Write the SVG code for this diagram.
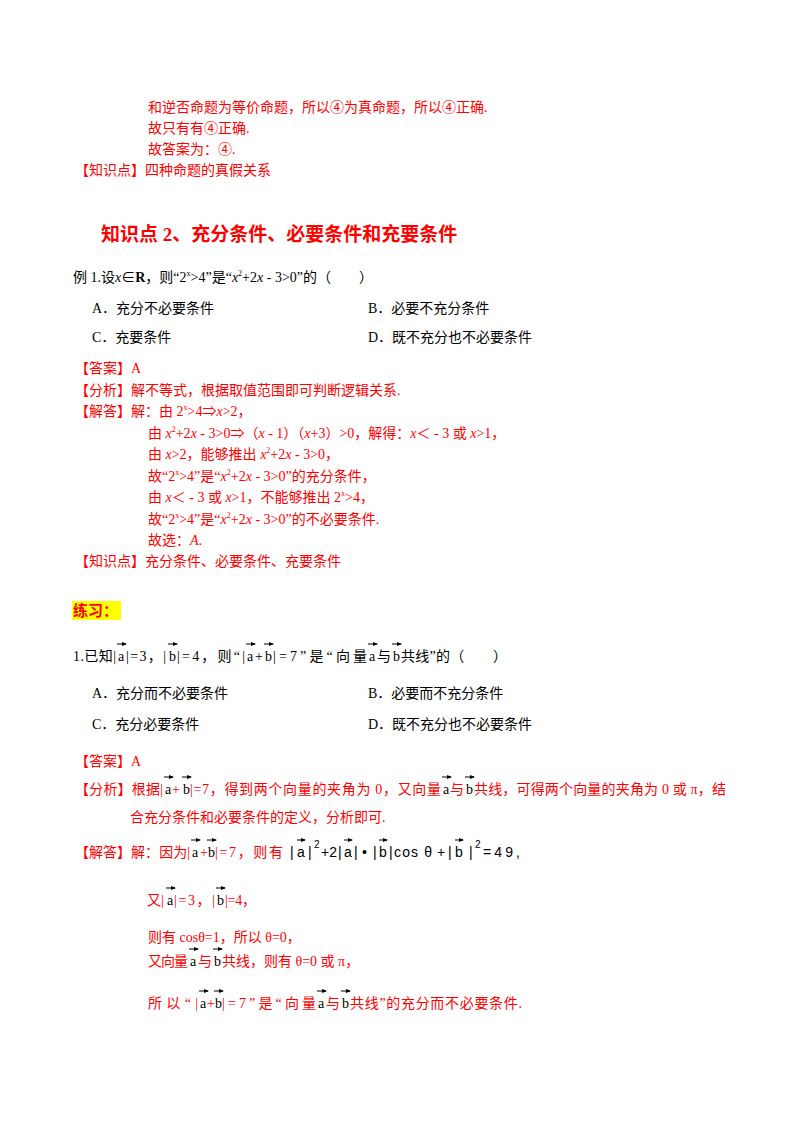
<svg xmlns="http://www.w3.org/2000/svg" width="800" height="1132" viewBox="0 0 800 1132">
<style>
text{font-family:"Liberation Serif","Noto Sans CJK SC",serif;font-size:14px;fill:#000}
.r{fill:#f00}
.h{font-size:19px;font-weight:bold;fill:#f00}
.f{font-family:"Liberation Sans",sans-serif;font-size:14px}
.s{font-family:"Liberation Sans",sans-serif;font-size:10px}
.v{stroke:#000;stroke-width:1;marker-end:url(#ah)}
</style>
<defs>
<marker id="ah" markerWidth="5" markerHeight="4" refX="4" refY="2" orient="auto"><path d="M0,0L5,2L0,4z" fill="#000"/></marker>
</defs>
<rect width="800" height="1132" fill="#fff"/>
<g class="txt">
<text class="r" x="148" y="112">和逆否命题为等价命题，所以④为真命题，所以④正确.</text>
<text class="r" x="148" y="133">故只有有④正确.</text>
<text class="r" x="148" y="154">故答案为：④.</text>
<text class="r" x="75" y="175">【知识点】四种命题的真假关系</text>
<text class="h" x="101" y="241">知识点 2、充分条件、必要条件和充要条件</text>
<text x="73" y="282">例 1.设<tspan font-style="italic">x</tspan>∈<tspan font-weight="bold">R</tspan>，则“2<tspan font-size="8" dy="-6">x</tspan><tspan dy="6">&gt;4”是“</tspan><tspan font-style="italic">x</tspan><tspan font-size="8" dy="-6">2</tspan><tspan dy="6">+2</tspan><tspan font-style="italic">x</tspan> - 3&gt;0”的（　　）</text>
<text x="92" y="313">A．充分不必要条件</text>
<text x="368" y="313">B．必要不充分条件</text>
<text x="92" y="342">C．充要条件</text>
<text x="368" y="342">D．既不充分也不必要条件</text>
<text class="r" x="75" y="373">【答案】A</text>
<text class="r" x="75" y="395">【分析】解不等式，根据取值范围即可判断逻辑关系.</text>
<text class="r" x="75" y="416">【解答】解：由 2<tspan font-size="8" dy="-6">x</tspan><tspan dy="6">&gt;4⇒</tspan><tspan font-style="italic">x</tspan>&gt;2，</text>
<text class="r" x="148" y="438">由 <tspan font-style="italic">x</tspan><tspan font-size="8" dy="-6">2</tspan><tspan dy="6">+2</tspan><tspan font-style="italic">x</tspan> - 3&gt;0⇒（<tspan font-style="italic">x</tspan> - 1）（<tspan font-style="italic">x</tspan>+3）&gt;0，解得：<tspan font-style="italic">x</tspan>＜ - 3 或 <tspan font-style="italic">x</tspan>&gt;1，</text>
<text class="r" x="148" y="459">由 <tspan font-style="italic">x</tspan>&gt;2，能够推出 <tspan font-style="italic">x</tspan><tspan font-size="8" dy="-6">2</tspan><tspan dy="6">+2</tspan><tspan font-style="italic">x</tspan> - 3&gt;0，</text>
<text class="r" x="148" y="481">故“2<tspan font-size="8" dy="-6">x</tspan><tspan dy="6">&gt;4”是“</tspan><tspan font-style="italic">x</tspan><tspan font-size="8" dy="-6">2</tspan><tspan dy="6">+2</tspan><tspan font-style="italic">x</tspan> - 3&gt;0”的充分条件，</text>
<text class="r" x="148" y="502">由 <tspan font-style="italic">x</tspan>＜ - 3 或 <tspan font-style="italic">x</tspan>&gt;1，不能够推出 2<tspan font-size="8" dy="-6">x</tspan><tspan dy="6">&gt;4，</tspan></text>
<text class="r" x="148" y="524">故“2<tspan font-size="8" dy="-6">x</tspan><tspan dy="6">&gt;4”是“</tspan><tspan font-style="italic">x</tspan><tspan font-size="8" dy="-6">2</tspan><tspan dy="6">+2</tspan><tspan font-style="italic">x</tspan> - 3&gt;0”的不必要条件.</text>
<text class="r" x="148" y="545">故选：<tspan font-style="italic">A</tspan>.</text>
<text class="r" x="75" y="566">【知识点】充分条件、必要条件、充要条件</text>
<rect x="72" y="601" width="49" height="19" fill="#ff0"/>
<text x="73" y="616" font-weight="bold" style="fill:#f00;font-size:15px">练习：</text>

<text x="73" y="661" textLength="43">1.已知|</text><text x="118" y="661">a</text><text x="126" y="661" textLength="40">|=3，|</text><text x="169" y="661">b</text><text x="177" y="661" textLength="68">|=4，则“|</text><text x="247" y="661">a</text><text x="255" y="661">+</text><text x="265" y="661">b</text><text x="273" y="661" textLength="94">|=7”是“向量</text><text x="369" y="661">a</text><text x="377" y="661">与</text><text x="393" y="661">b</text><text x="401" y="661" textLength="106">共线”的（　　）</text>
<text x="92" y="698">A．充分而不必要条件</text>
<text x="368" y="698">B．必要而不充分条件</text>
<text x="92" y="729">C．充分必要条件</text>
<text x="368" y="729">D．既不充分也不必要条件</text>
<text class="r" x="75" y="766">【答案】A</text>

<text class="r" x="75" y="794" textLength="88">【分析】根据|</text><text x="165" y="794">a</text><text class="r" x="172" y="794">+</text><text x="183" y="794">b</text><text class="r" x="190" y="794" textLength="251">|=7，得到两个向量的夹角为 0，又向量</text><text x="443" y="794">a</text><text class="r" x="450" y="794">与</text><text x="466" y="794">b</text><text class="r" x="474" y="794" textLength="252">共线，可得两个向量的夹角为 0 或 π，结</text>
<text class="r" x="130" y="822">合充分条件和必要条件的定义，分析即可.</text>

<text class="r" x="75" y="857" textLength="115">【解答】解：因为|</text><text x="192" y="857">a</text><text class="r" x="200" y="857">+</text><text x="208" y="857">b</text><text class="r" x="215" y="857" textLength="68">|=7，则有</text>
<text class="f" x="290" y="857">|</text><text class="f" x="297" y="857">a</text><text class="f" x="308" y="857">|</text><text class="s" x="314" y="848">2</text><text class="f" x="321" y="857">+2</text><text class="f" x="338" y="857">|</text><text class="f" x="344" y="857">a</text><text class="f" x="354" y="857">|</text><text class="f" x="362" y="857">•</text><text class="f" x="373" y="857">|</text><text class="f" x="379" y="857">b</text><text class="f" x="389" y="857">|</text><text class="f" x="394" y="857" textLength="38">cos θ</text><text class="f" x="437" y="857">+</text><text class="f" x="448" y="857">|</text><text class="f" x="455" y="857">b</text><text class="f" x="469" y="857">|</text><text class="s" x="475" y="848">2</text><text class="f" x="483" y="857" textLength="37">=49,</text>

<text class="r" x="147" y="905">又|</text><text x="167" y="905">a</text><text class="r" x="174" y="905" textLength="41">|=3，|</text><text x="217" y="905">b</text><text class="r" x="225" y="905" textLength="31">|=4，</text>
<text class="r" x="148" y="942">则有 cosθ=1，所以 θ=0，</text>
<text class="r" x="148" y="966" textLength="40">又向量</text><text x="190" y="966">a</text><text class="r" x="198" y="966">与</text><text x="214" y="966">b</text><text class="r" x="222" y="966">共线，则有 θ=0 或 π，</text>
<text class="r" x="148" y="1008" textLength="50">所以“|</text><text x="200" y="1008">a</text><text class="r" x="207" y="1008">+</text><text x="215" y="1008">b</text><text class="r" x="222" y="1008" textLength="94">|=7”是“向量</text><text x="318" y="1008">a</text><text class="r" x="326" y="1008">与</text><text x="342" y="1008">b</text><text class="r" x="350" y="1008" textLength="172">共线”的充分而不必要条件.</text>
</g>
<g class="connectors">
<line class="v" x1="117" y1="644" x2="126" y2="644"/>
<line class="v" x1="168" y1="644" x2="177" y2="644"/>
<line class="v" x1="246" y1="644" x2="255" y2="644"/>
<line class="v" x1="264" y1="644" x2="273" y2="644"/>
<line class="v" x1="368" y1="644" x2="377" y2="644"/>
<line class="v" x1="392" y1="644" x2="401" y2="644"/>
<line class="v" x1="164" y1="777" x2="173" y2="777"/>
<line class="v" x1="182" y1="777" x2="191" y2="777"/>
<line class="v" x1="442" y1="777" x2="451" y2="777"/>
<line class="v" x1="465" y1="777" x2="474" y2="777"/>
<line class="v" x1="191" y1="840" x2="200" y2="840"/>
<line class="v" x1="207" y1="840" x2="216" y2="840"/>
<line class="v" x1="297" y1="840" x2="305" y2="840"/>
<line class="v" x1="344" y1="840" x2="352" y2="840"/>
<line class="v" x1="379" y1="840" x2="387" y2="840"/>
<line class="v" x1="455" y1="840" x2="463" y2="840"/>
<line class="v" x1="166" y1="888" x2="175" y2="888"/>
<line class="v" x1="216" y1="888" x2="225" y2="888"/>
<line class="v" x1="189" y1="949" x2="198" y2="949"/>
<line class="v" x1="213" y1="949" x2="222" y2="949"/>
<line class="v" x1="199" y1="991" x2="208" y2="991"/>
<line class="v" x1="214" y1="991" x2="223" y2="991"/>
<line class="v" x1="317" y1="991" x2="326" y2="991"/>
<line class="v" x1="341" y1="991" x2="350" y2="991"/>
</g>
</svg>
